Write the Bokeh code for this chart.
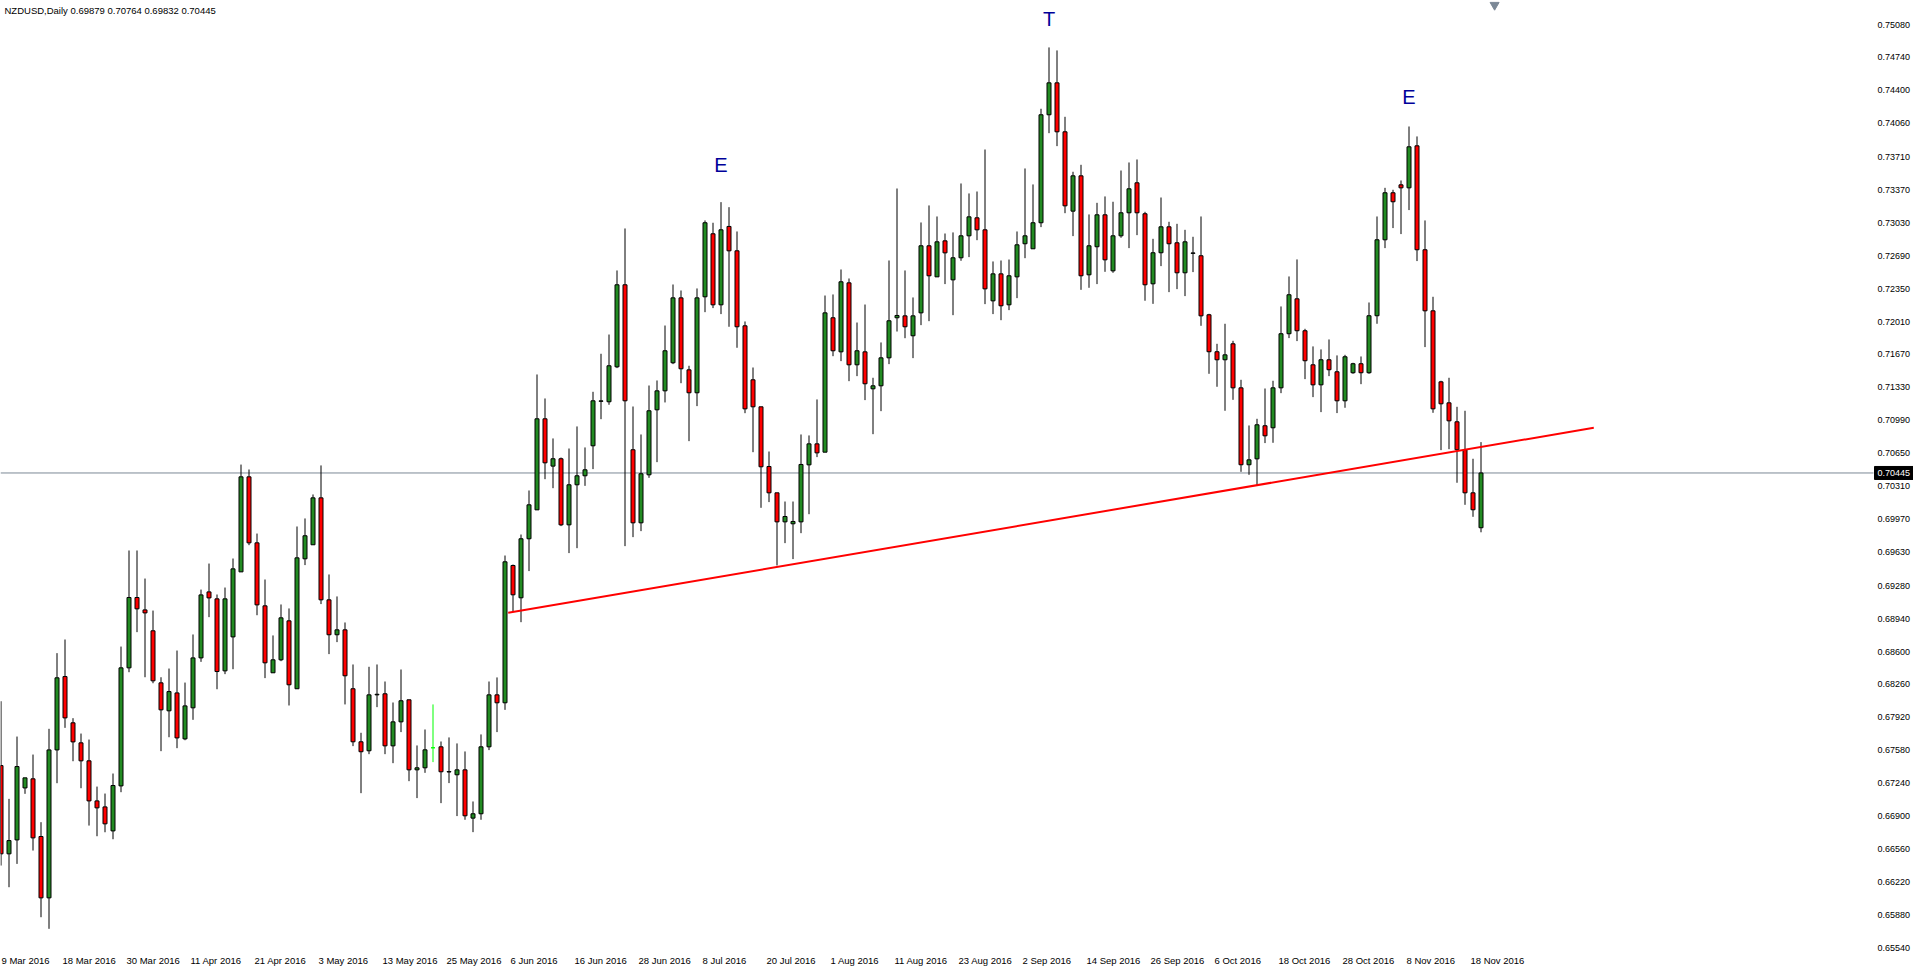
from bokeh.plotting import figure
from bokeh.models import Range1d
from bokeh.core.properties import value
from bokeh.embed import file_html
from bokeh.resources import INLINE

# ---------------- data ----------------
symbol = "NZDUSD,Daily"

opens = [0.67421, 0.66509, 0.66653, 0.67190, 0.67284, 0.66688, 0.66054, 0.67583, 0.68341, 0.67863,
         0.67656, 0.67470, 0.67056, 0.66994, 0.66746, 0.67211, 0.68431, 0.69158, 0.69030, 0.68814,
         0.68276, 0.67987, 0.68172, 0.67697, 0.68018, 0.68534, 0.69216, 0.69144, 0.68400, 0.68751,
         0.69423, 0.70405, 0.69723, 0.69072, 0.68380, 0.68514, 0.68917, 0.68215, 0.69558, 0.69703,
         0.70188, 0.69134, 0.68773, 0.68824, 0.68215, 0.67667, 0.67574, 0.68152, 0.68163, 0.67625,
         0.67873, 0.68101, 0.67377, 0.67398, 0.67605, 0.67615, 0.67355, 0.67326, 0.67377, 0.66878,
         0.66923, 0.67615, 0.68152, 0.68070, 0.69489, 0.69155, 0.69765, 0.70064, 0.71005, 0.70516,
         0.70592, 0.69909, 0.70323, 0.70416, 0.70726, 0.71186, 0.71181, 0.71542, 0.72390, 0.70685,
         0.69930, 0.70426, 0.71098, 0.71294, 0.71584, 0.72255, 0.71511, 0.71274, 0.72266, 0.72917,
         0.72183, 0.72993, 0.72741, 0.71966, 0.71408, 0.71129, 0.70512, 0.70240, 0.69940, 0.69920,
         0.69940, 0.70529, 0.70746, 0.70660, 0.72049, 0.71697, 0.72410, 0.71563, 0.71697, 0.71315,
         0.71346, 0.71635, 0.72049, 0.72069, 0.71863, 0.72100, 0.72793, 0.72472, 0.72844, 0.72441,
         0.72669, 0.72896, 0.73082, 0.72958, 0.72224, 0.72503, 0.72183, 0.72472, 0.72814, 0.72762,
         0.73031, 0.74147, 0.74477, 0.73971, 0.73151, 0.73516, 0.72493, 0.72783, 0.73113, 0.72534,
         0.72896, 0.73134, 0.73444, 0.73124, 0.72400, 0.72721, 0.72989, 0.72824, 0.72514, 0.72715,
         0.72690, 0.72080, 0.71698, 0.71615, 0.71780, 0.71325, 0.70530, 0.70591, 0.70933, 0.70912,
         0.71325, 0.71884, 0.72245, 0.71915, 0.71563, 0.71356, 0.71615, 0.71491, 0.71191, 0.71481,
         0.71574, 0.71481, 0.72070, 0.72855, 0.73341, 0.73423, 0.73392, 0.73826, 0.72752, 0.72121,
         0.71387, 0.71170, 0.70974, 0.70685, 0.70240, 0.69879]

highs = [0.68086, 0.67077, 0.67721, 0.67294, 0.67535, 0.66836, 0.67801, 0.68583, 0.68724, 0.67911,
         0.67752, 0.67690, 0.67204, 0.67132, 0.67339, 0.68651, 0.69644, 0.69644, 0.69354, 0.69023,
         0.68334, 0.68424, 0.68610, 0.68279, 0.68776, 0.69240, 0.69509, 0.69189, 0.69261, 0.69561,
         0.70532, 0.70481, 0.69819, 0.69344, 0.68766, 0.69086, 0.69045, 0.69892, 0.69975, 0.70223,
         0.70523, 0.69396, 0.69169, 0.68900, 0.68466, 0.67760, 0.68442, 0.68466, 0.68290, 0.68073,
         0.68414, 0.68101, 0.67629, 0.67794, 0.68053, 0.67670, 0.67712, 0.67650, 0.67567, 0.67050,
         0.67743, 0.68290, 0.68332, 0.69592, 0.69499, 0.69809, 0.70264, 0.71463, 0.71215, 0.70802,
         0.70605, 0.70698, 0.70926, 0.70709, 0.71284, 0.71677, 0.71876, 0.72538, 0.72972, 0.71132,
         0.70843, 0.71349, 0.71401, 0.71969, 0.72393, 0.72331, 0.71553, 0.72352, 0.73055, 0.73031,
         0.73244, 0.73192, 0.72941, 0.72011, 0.71535, 0.71129, 0.70667, 0.70240, 0.70150, 0.70150,
         0.70843, 0.70833, 0.71205, 0.72279, 0.72290, 0.72548, 0.72455, 0.72000, 0.72186, 0.71429,
         0.71794, 0.72641, 0.73385, 0.72538, 0.72259, 0.73034, 0.73210, 0.73096, 0.72920, 0.72931,
         0.73437, 0.73334, 0.73354, 0.73788, 0.72631, 0.72641, 0.72651, 0.72941, 0.73592, 0.73427,
         0.74209, 0.74843, 0.74812, 0.74126, 0.73558, 0.73630, 0.73117, 0.73237, 0.73303, 0.73248,
         0.73571, 0.73654, 0.73685, 0.73144, 0.72865, 0.73292, 0.73041, 0.73020, 0.72958, 0.72886,
         0.73096, 0.72090, 0.71780, 0.71987, 0.71811, 0.71408, 0.70936, 0.71005, 0.71318, 0.71398,
         0.72166, 0.72476, 0.72652, 0.71935, 0.71753, 0.71722, 0.71825, 0.71660, 0.71666, 0.71584,
         0.71649, 0.72207, 0.73096, 0.73392, 0.73372, 0.73468, 0.74026, 0.73923, 0.73055, 0.72266,
         0.71398, 0.71429, 0.71129, 0.71088, 0.70592, 0.70764]

lows = [0.66388, 0.66164, 0.66405, 0.67129, 0.66543, 0.65854, 0.65734, 0.67239, 0.67811, 0.67466,
        0.67187, 0.66801, 0.66691, 0.66732, 0.66660, 0.67146, 0.68386, 0.68800, 0.68334, 0.68272,
        0.67570, 0.67714, 0.67601, 0.67683, 0.67894, 0.68493, 0.68955, 0.68210, 0.68366, 0.68417,
        0.69423, 0.69699, 0.68975, 0.68325, 0.68380, 0.68500, 0.68042, 0.68215, 0.69493, 0.69703,
        0.69090, 0.68573, 0.68697, 0.68053, 0.67622, 0.67136, 0.67539, 0.68025, 0.67539, 0.67446,
        0.67767, 0.67260, 0.67085, 0.67346, 0.67457, 0.67033, 0.67240, 0.66899, 0.66861, 0.66733,
        0.66861, 0.67581, 0.67767, 0.67997, 0.69007, 0.68903, 0.69431, 0.70064, 0.70381, 0.70288,
        0.69896, 0.69617, 0.69668, 0.70312, 0.70485, 0.71001, 0.71150, 0.71529, 0.69689, 0.69782,
        0.69844, 0.70395, 0.70557, 0.71174, 0.71570, 0.71373, 0.70774, 0.71136, 0.72107, 0.72149,
        0.72087, 0.71956, 0.71739, 0.71063, 0.70660, 0.70085, 0.70144, 0.69489, 0.69720, 0.69555,
        0.69823, 0.70019, 0.70609, 0.70660, 0.71652, 0.71601, 0.71394, 0.71446, 0.71198, 0.70846,
        0.71084, 0.71570, 0.71907, 0.71838, 0.71632, 0.71973, 0.72014, 0.72472, 0.72397, 0.72076,
        0.72638, 0.72676, 0.72851, 0.72190, 0.72087, 0.72024, 0.72128, 0.72252, 0.72665, 0.72762,
        0.72986, 0.73957, 0.73823, 0.73130, 0.72893, 0.72338, 0.72359, 0.72397, 0.72524, 0.72514,
        0.72876, 0.72769, 0.72903, 0.72225, 0.72193, 0.72583, 0.72314, 0.72345, 0.72273, 0.72521,
        0.71966, 0.71470, 0.71336, 0.71088, 0.71201, 0.70457, 0.70426, 0.70316, 0.70754, 0.70757,
        0.71270, 0.71839, 0.71808, 0.71415, 0.71229, 0.71074, 0.71446, 0.71064, 0.71119, 0.71470,
        0.71363, 0.71470, 0.71987, 0.72769, 0.72976, 0.72914, 0.73162, 0.72635, 0.71746, 0.71067,
        0.70681, 0.70691, 0.70344, 0.70116, 0.69992, 0.69832]

closes = [0.66509, 0.66646, 0.67411, 0.67294, 0.66674, 0.66054, 0.67583, 0.68328, 0.67914, 0.67666,
          0.67470, 0.67056, 0.66984, 0.66819, 0.67215, 0.68431, 0.69158, 0.69041, 0.68999, 0.68297,
          0.67997, 0.68186, 0.67707, 0.68038, 0.68534, 0.69185, 0.69154, 0.68393, 0.69144, 0.69454,
          0.70405, 0.69723, 0.69082, 0.68483, 0.68514, 0.68948, 0.68256, 0.69568, 0.69796, 0.70188,
          0.69134, 0.68773, 0.68824, 0.68349, 0.67667, 0.67564, 0.68152, 0.68158, 0.67625, 0.67873,
          0.68091, 0.67377, 0.67398, 0.67584, 0.67605, 0.67357, 0.67359, 0.67377, 0.66902, 0.66923,
          0.67615, 0.68152, 0.68070, 0.69527, 0.69186, 0.69765, 0.70116, 0.71005, 0.70550, 0.70592,
          0.69909, 0.70323, 0.70416, 0.70478, 0.71191, 0.71190, 0.71553, 0.72390, 0.71191, 0.69930,
          0.70437, 0.71088, 0.71294, 0.71708, 0.72255, 0.71522, 0.71274, 0.72255, 0.73031, 0.72183,
          0.72958, 0.72741, 0.71956, 0.71108, 0.71129, 0.70509, 0.70240, 0.69940, 0.69995, 0.69944,
          0.70533, 0.70746, 0.70653, 0.72100, 0.71708, 0.72421, 0.71563, 0.71708, 0.71367, 0.71346,
          0.71635, 0.72018, 0.72073, 0.71956, 0.72069, 0.72793, 0.72483, 0.72834, 0.72720, 0.72669,
          0.72896, 0.73092, 0.72958, 0.72348, 0.72503, 0.72173, 0.72483, 0.72803, 0.72896, 0.73031,
          0.74147, 0.74477, 0.73971, 0.73206, 0.73516, 0.72483, 0.72793, 0.73113, 0.72648, 0.72896,
          0.73134, 0.73382, 0.73134, 0.72390, 0.72721, 0.72989, 0.72814, 0.72514, 0.72834, 0.72719,
          0.72069, 0.71698, 0.71615, 0.71666, 0.71325, 0.70530, 0.70581, 0.70943, 0.70829, 0.71325,
          0.71884, 0.72287, 0.71915, 0.71605, 0.71356, 0.71615, 0.71512, 0.71191, 0.71646, 0.71574,
          0.71481, 0.72070, 0.72855, 0.73341, 0.73248, 0.73392, 0.73816, 0.72752, 0.72121, 0.71108,
          0.71160, 0.70984, 0.70685, 0.70240, 0.70065, 0.70445]

# one date label every 8 bars, starting at bar 0
date_labels = ["9 Mar 2016", "18 Mar 2016", "30 Mar 2016", "11 Apr 2016", "21 Apr 2016",
               "3 May 2016", "13 May 2016", "25 May 2016", "6 Jun 2016", "16 Jun 2016",
               "28 Jun 2016", "8 Jul 2016", "20 Jul 2016", "1 Aug 2016", "11 Aug 2016",
               "23 Aug 2016", "2 Sep 2016", "14 Sep 2016", "26 Sep 2016", "6 Oct 2016",
               "18 Oct 2016", "28 Oct 2016", "8 Nov 2016", "18 Nov 2016"]
label_step = 8

price_ticks = [0.75080, 0.74740, 0.74400, 0.74060, 0.73710, 0.73370, 0.73030, 0.72690,
               0.72350, 0.72010, 0.71670, 0.71330, 0.70990, 0.70650, 0.70310, 0.69970,
               0.69630, 0.69280, 0.68940, 0.68600, 0.68260, 0.67920, 0.67580, 0.67240,
               0.66900, 0.66560, 0.66220, 0.65880, 0.65540]

pattern_text = ["E", "T", "E"]
pattern_bar = [90, 131, 176]
pattern_price = [0.73633, 0.75142, 0.74326]

trend_bar = [63.4, 199.1]
trend_price = [0.69000, 0.70912]

last_price = 0.70445

# ---------------- layout (1 page px = 1 reference px) ----------------
W, H = 1913, 972
BAR_PX = 8.0            # pixels per bar
BAR0_X = 0.5            # x of bar 0
SCALE_X = 1870          # x where the price scale starts
PX_PER_UNIT = 9676.0    # pixels per price unit
REF_Y0, REF_P0 = 24.0, 0.75080

def ref_y_price(y):
    return REF_P0 - (y - REF_Y0) / PX_PER_UNIT

def ref_x_bar(x):
    return (x - BAR0_X) / BAR_PX

x_left, x_right = ref_x_bar(0), ref_x_bar(W)
y_top, y_bot = ref_y_price(0), ref_y_price(H)

FONT = "Liberation Sans"
UP, DOWN, FLAT = "#228B22", "#FF0000", "#00FF00"
GRAY = "#7b8896"

n = len(opens)
idx = list(range(n))
body_top = [max(o, c) for o, c in zip(opens, closes)]
body_bot = [min(o, c) for o, c in zip(opens, closes)]
fill_c, line_c, wick_c = [], [], []
for o, c in zip(opens, closes):
    if c == o:
        fill_c.append(FLAT); line_c.append(FLAT); wick_c.append(FLAT)
    else:
        fill_c.append(UP if c > o else DOWN); line_c.append("black"); wick_c.append("black")

p = figure(width=W, height=H, output_backend="svg", toolbar_location=None,
           x_range=Range1d(x_left, x_right), y_range=Range1d(y_bot, y_top),
           x_axis_location=None, y_axis_location=None,
           min_border_left=0, min_border_top=0, min_border_bottom=0, min_border_right=0)
p.grid.visible = False
p.outline_line_color = None
p.background_fill_color = "white"
p.border_fill_color = "white"

# price scale labels on the right
p.text(x=[ref_x_bar(SCALE_X + 7)] * len(price_ticks), y=price_ticks,
       text=["%.5f" % t for t in price_ticks], text_color="black",
       text_font=value(FONT), text_font_size="9px", text_align="left", text_baseline="middle")

# current price line up to the price scale
p.line([x_left, ref_x_bar(SCALE_X + 3)], [last_price, last_price], line_color=GRAY, line_width=1)

p.segment(x0=idx, y0=lows, x1=idx, y1=highs, line_color=wick_c, line_width=1)
p.vbar(x=idx, width=0.5, top=body_top, bottom=body_bot, fill_color=fill_c,
       line_color=line_c, line_width=1)

p.line(trend_bar, trend_price, line_color="#FF0000", line_width=2)

p.text(x=pattern_bar, y=pattern_price, text=pattern_text, text_color="#000099",
       text_font=value(FONT), text_font_size="20px", text_align="center", text_baseline="middle")

# header
hdr = "%s  %.5f %.5f %.5f %.5f" % (symbol, opens[-1], highs[-1], lows[-1], closes[-1])
p.text(x=[ref_x_bar(4)], y=[ref_y_price(9.5)], text=[hdr], text_color="black",
       text_font=value(FONT), text_font_size="9.5px", text_align="left", text_baseline="middle")

# date labels: text starts 2.5px left of its bar, kept inside the window
date_x = [ref_x_bar(max(BAR0_X + k * label_step * BAR_PX - 2.5, 1.0)) for k in range(len(date_labels))]
p.text(x=date_x, y=[ref_y_price(960)] * len(date_x), text=date_labels, text_color="black",
       text_font=value(FONT), text_font_size="9.5px", text_align="left", text_baseline="middle")

# chart-shift marker
p.scatter(x=[n - 1 + 1.7], y=[ref_y_price(4.5)], marker="inverted_triangle", size=9,
          fill_color=GRAY, line_color=GRAY)

# current price box on the price scale
box_half = 6.5 / PX_PER_UNIT
p.quad(left=[ref_x_bar(SCALE_X + 4)], right=[ref_x_bar(W)],
       top=[last_price + box_half], bottom=[last_price - box_half],
       fill_color="black", line_color="black")
p.text(x=[ref_x_bar(SCALE_X + 7)], y=[last_price], text=["%.5f" % last_price], text_color="white",
       text_font=value(FONT), text_font_size="9px", text_align="left", text_baseline="middle")

open("out.html", "w").write(file_html(p, INLINE))
